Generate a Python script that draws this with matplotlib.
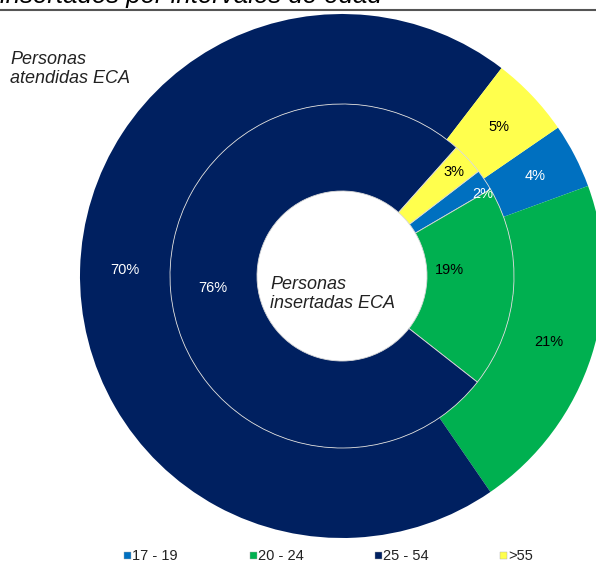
import matplotlib
matplotlib.use("Agg")
import matplotlib.pyplot as plt
from matplotlib.patches import Rectangle
import numpy as np

plt.rcParams['font.family'] = ['Liberation Sans', 'DejaVu Sans']

categories = ['17 - 19', '20 - 24', '25 - 54', '>55']
atendidas = [4, 21, 70, 5]      # outer ring (%)
insertadas = [2, 19, 76, 3]     # inner ring (%)
colors = ['#0070C0', '#00B050', '#002060', '#FFFF4D']
outer_label_colors = ['white', 'black', 'white', 'black']
inner_label_colors = ['white', 'black', 'white', 'black']
title_text = 'insertados por intervalos de edad'

W, H = 596, 568
fig = plt.figure(figsize=(W / 100, H / 100), dpi=100)

def fx(px):
    return px / W

def fy(py):
    return 1 - py / H

# main pie axes: center (342,276), radius 262 px
cx, cy, R = 342, 276, 262
ax = fig.add_axes([fx(cx - R), fy(cy + R), 2 * R / W, 2 * R / H])

r_in_outer = 172 / R
r_hole = 85 / R

wo, _ = ax.pie(atendidas, colors=colors, radius=1.0, startangle=34.5,
               counterclock=False, wedgeprops=dict(width=1 - r_in_outer, linewidth=0))
wi, _ = ax.pie(insertadas, colors=colors, radius=r_in_outer, startangle=37.5,
               counterclock=False,
               wedgeprops=dict(width=r_in_outer - r_hole, edgecolor='#d8d8d8', linewidth=0.6))
for w in wo + wi:
    w.set_clip_on(False)
ax.set_xlim(-1, 1)
ax.set_ylim(-1, 1)
ax.set_aspect('auto')
ax.axis('off')

# outer labels at middle of ring
rmid_o = (1 + r_in_outer) / 2
for w, v, c in zip(wo, atendidas, outer_label_colors):
    ang = np.deg2rad((w.theta1 + w.theta2) / 2)
    ax.text(rmid_o * np.cos(ang), rmid_o * np.sin(ang), f'{v}%', ha='center', va='center',
            color=c, fontsize=10.5)

# inner labels (Excel-like placement: small slices pushed outward)
inner_dist = [163 / R, 108 / R, 130 / R, 153 / R]
inner_ang_shift = [-3.5, 7, 0, 0]
for w, v, c, d, s in zip(wi, insertadas, inner_label_colors, inner_dist, inner_ang_shift):
    ang = np.deg2rad((w.theta1 + w.theta2) / 2 + s)
    ax.text(d * np.cos(ang), d * np.sin(ang), f'{v}%', ha='center', va='center',
            color=c, fontsize=10.5)

# title (cut off at top, as in the source) and rule
fig.text(fx(0), fy(3), title_text, fontsize=18.5, style='italic', ha='left', va='baseline',
         color='black')
fig.add_artist(plt.Line2D([0, 1], [fy(9.5), fy(9.5)], color='#555555', linewidth=1.5))

# ring titles
fig.text(fx(10), fy(69), 'Personas\natendidas ECA', fontsize=13, style='italic',
         ha='left', va='center', color='#222222', linespacing=1.1)
fig.text(fx(270), fy(294), 'Personas\ninsertadas ECA', fontsize=13, style='italic',
         ha='left', va='center', color='#222222', linespacing=1.1)

# legend
leg_x = [124, 250, 375, 500]
for x, lab, col in zip(leg_x, categories, colors):
    fig.add_artist(Rectangle((fx(x), fy(559)), 7 / W, 7 / H, facecolor=col,
                             edgecolor='#aaaaaa', linewidth=0.3))
    fig.text(fx(x + 8), fy(556), lab, fontsize=10.5, ha='left', va='center', color='#222222')

fig.savefig('out.png', dpi=100)
